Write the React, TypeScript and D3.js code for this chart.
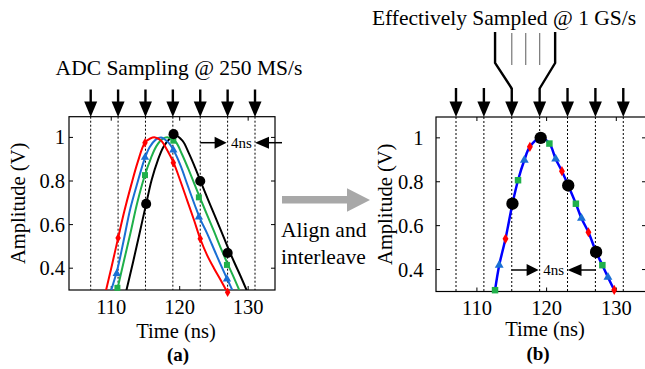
import * as d3 from "d3";

// sampling instants of the ADC (ns) and axis ticks
const sampleTimes = [107, 111, 115, 119, 123, 127, 131];
const xTicks = [110, 120, 130];
const yTicks = [0.4, 0.6, 0.8, 1];

// (a) four ADC channels, each shifted by 1 ns
const blackT = [112.0, 113.2, 114.1, 115.1, 115.9, 116.8, 117.6, 118.5, 119.3, 120.4, 121.3, 122.2, 123.1, 124.2, 125.0, 126.0, 127.1, 128.0, 128.8, 129.9];
const blackV = [0.27, 0.43, 0.555, 0.695, 0.805, 0.895, 0.955, 0.993, 1.01, 0.985, 0.93, 0.865, 0.795, 0.71, 0.65, 0.575, 0.49, 0.425, 0.37, 0.29];
const greenT = [110.8, 111.9, 112.8, 113.8, 114.9, 115.8, 116.6, 117.5, 118.3, 119.4, 120.3, 121.2, 122.1, 123.2, 124.0, 125.0, 126.1, 127.0, 127.8, 128.9];
const greenV = [0.29, 0.44, 0.56, 0.7, 0.825, 0.905, 0.96, 0.993, 1.0, 0.98, 0.925, 0.86, 0.79, 0.705, 0.645, 0.57, 0.485, 0.42, 0.365, 0.285];
const blueT = [109.9, 110.9, 111.8, 112.8, 113.9, 114.8, 115.6, 116.5, 117.3, 118.4, 119.3, 120.2, 121.1, 122.2, 123.0, 124.0, 125.1, 126.0, 126.8, 127.9];
const blueV = [0.29, 0.395, 0.525, 0.675, 0.8, 0.895, 0.955, 0.99, 1.0, 0.975, 0.93, 0.865, 0.785, 0.69, 0.625, 0.56, 0.48, 0.415, 0.36, 0.285];
const redT = [109.1, 110.0, 111.0, 111.9, 112.9, 113.9, 114.9, 115.7, 116.4, 117.3, 118.2, 119.1, 120.1, 121.1, 122.1, 123.0, 124.0, 125.0, 126.0, 127.2];
const redV = [0.28, 0.4, 0.538, 0.66, 0.78, 0.89, 0.975, 0.995, 1.0, 0.985, 0.94, 0.884, 0.8, 0.71, 0.62, 0.535, 0.46, 0.4, 0.345, 0.275];

// (a) samples taken by each channel
const aBlack: [number, number][] = [[115.1, 0.695], [119.1, 1.015], [123.0, 0.8], [127.0, 0.47]];
const aGreen: [number, number][] = [[110.9, 0.31], [114.93, 0.827], [119.07, 0.985], [122.8, 0.725], [126.9, 0.415]];
const aBlue: [number, number][] = [[110.8, 0.375], [114.93, 0.908], [119.07, 0.942], [122.8, 0.635], [126.9, 0.35]];
const aRed: [number, number][] = [[111.0, 0.538], [114.93, 0.975], [119.07, 0.884], [123.0, 0.535], [127.0, 0.29]];

// (b) samples after alignment
const bBlack: [number, number][] = [[115.1, 0.7], [119.15, 1.0], [123.1, 0.783], [127.1, 0.48]];
const bGreen: [number, number][] = [[112.6, 0.306], [115.9, 0.807], [120.4, 0.974], [124.2, 0.7], [128.0, 0.42]];
const bBlue: [number, number][] = [[113.2, 0.42], [116.8, 0.898], [121.3, 0.904], [125.0, 0.634], [128.8, 0.365]];
const bRed: [number, number][] = [[114.1, 0.54], [117.6, 0.959], [122.2, 0.848], [126.0, 0.57], [129.7, 0.307]];

const RED = "#ff0000";
const BLUE = "#1a6fd4";
const GREEN = "#1fb04a";
const FONT = "'Liberation Serif', 'Times New Roman', serif";

const zip = (t: number[], v: number[]) => t.map((d, i) => [d, v[i]] as [number, number]);

type Scale = d3.ScaleLinear<number, number>;

function Frame({ x, y, id, yLabelX, tickGap, tickY, timeY }: { x: Scale; y: Scale; id: string; yLabelX: number; tickGap: number; tickY: number; timeY: number }) {
  const [x0, x1] = x.range();
  const [y1, y0] = y.range();
  return (
    <g>
      <defs>
        <clipPath id={id}>
          <rect x={x0} y={y0} width={x1 - x0} height={y1 - y0} />
        </clipPath>
      </defs>
      {sampleTimes.map((t) => (
        <line key={t} x1={x(t)} x2={x(t)} y1={y0} y2={y1} stroke="#000" strokeWidth={1} strokeDasharray="2,2" />
      ))}
      <rect x={x0} y={y0} width={x1 - x0} height={y1 - y0} fill="none" stroke="#000" strokeWidth={1.2} />
      {xTicks.map((t) => (
        <g key={t}>
          <line x1={x(t)} x2={x(t)} y1={y1} y2={y1 - 4} stroke="#000" />
          <line x1={x(t)} x2={x(t)} y1={y0} y2={y0 + 4} stroke="#000" />
          <text x={x(t)} y={tickY} textAnchor="middle" fontSize={20.5}>{t}</text>
        </g>
      ))}
      {yTicks.map((v) => (
        <g key={v}>
          <line x1={x0} x2={x0 + 4} y1={y(v)} y2={y(v)} stroke="#000" />
          <line x1={x1} x2={x1 - 4} y1={y(v)} y2={y(v)} stroke="#000" />
          <text x={x0 - tickGap} y={y(v) + 7} textAnchor="end" fontSize={20.5}>{v}</text>
        </g>
      ))}
      <text transform={`translate(${yLabelX},${(y0 + y1) / 2}) rotate(-90)`} textAnchor="middle" fontSize={20.5}>Amplitude (V)</text>
      <text x={(x0 + x1) / 2 + 4} y={timeY} textAnchor="middle" fontSize={20.5}>Time (ns)</text>
    </g>
  );
}

function Markers({ x, y, pts, kind, color, size }: { x: Scale; y: Scale; pts: [number, number][]; kind: d3.SymbolType; color: string; size: number }) {
  const sym = d3.symbol().type(kind).size(size)();
  return (
    <g>
      {pts.map(([t, v], i) => (
        <path key={i} d={sym ?? ""} transform={`translate(${x(t)},${y(v)})`} fill={color} />
      ))}
    </g>
  );
}

function TopArrows({ x, top }: { x: Scale; top: number }) {
  return (
    <g>
      {sampleTimes.map((t) => (
        <g key={t}>
          <line x1={x(t)} x2={x(t)} y1={top} y2={103} stroke="#000" strokeWidth={2.4} />
          <path d={`M${x(t) - 6.5},101.5L${x(t) + 6.5},101.5L${x(t)},117Z`} fill="#000" />
        </g>
      ))}
    </g>
  );
}

function Span({ xa, xb, xc, xd, yy }: { xa: number; xb: number; xc: number; xd: number; yy: number }) {
  // arrow xa->xb, label, arrow xd->xc
  return (
    <g>
      <line x1={xa} x2={xb - 10} y1={yy} y2={yy} stroke="#000" strokeWidth={1.5} />
      <path d={`M${xb - 13},${yy - 6}L${xb - 1},${yy}L${xb - 13},${yy + 6}Z`} fill="#000" />
      <text x={(xb + xc) / 2} y={yy + 5} textAnchor="middle" fontSize={15}>4ns</text>
      <path d={`M${xc + 14},${yy - 6}L${xc},${yy}L${xc + 14},${yy + 6}Z`} fill="#000" />
      <line x1={xc + 10} x2={xd} y1={yy} y2={yy} stroke="#000" strokeWidth={1.5} />
    </g>
  );
}

export default function App() {
  const xA = d3.scaleLinear().domain([103.83, 133.92]).range([69, 275]);
  const yA = d3.scaleLinear().domain([0.3, 1.095]).range([290, 116.7]);
  const xB = d3.scaleLinear().domain([104.13, 134.26]).range([436, 646]);
  const yB = d3.scaleLinear().domain([0.3, 1.095]).range([291.5, 117]);

  const lineA = d3.line<[number, number]>().x((d) => xA(d[0])).y((d) => yA(d[1])).curve(d3.curveCatmullRom);
  const bAll = [...bBlack, ...bGreen, ...bBlue, ...bRed].sort((p, q) => p[0] - q[0]);
  const lineB = d3.line<[number, number]>().x((d) => xB(d[0])).y((d) => yB(d[1])).curve(d3.curveCatmullRom);

  const bx115 = xB(115);
  const bx119 = xB(119);

  return (
    <svg width={645} height={369} style={{ position: "absolute", left: 0, top: 0, background: "#fff", fontFamily: FONT }}>
      {/* panel (a) */}
      <text x={179} y={75} textAnchor="middle" fontSize={21.5}>ADC Sampling @ 250 MS/s</text>
      <TopArrows x={xA} top={89.5} />
      <Frame x={xA} y={yA} id="clipA" yLabelX={25} tickGap={4} tickY={313.5} timeY={338} />
      <g clipPath="url(#clipA)" fill="none" strokeWidth={2}>
        <path d={lineA(zip(blackT, blackV)) ?? ""} stroke="#000" />
        <path d={lineA(zip(greenT, greenV)) ?? ""} stroke={GREEN} />
        <path d={lineA(zip(blueT, blueV)) ?? ""} stroke={BLUE} />
        <path d={lineA(zip(redT, redV)) ?? ""} stroke={RED} />
      </g>
      <Markers x={xA} y={yA} pts={aRed} kind={d3.symbolDiamond} color={RED} size={26} />
      <Markers x={xA} y={yA} pts={aBlue} kind={d3.symbolTriangle} color={BLUE} size={30} />
      <Markers x={xA} y={yA} pts={aGreen} kind={d3.symbolSquare} color={GREEN} size={36} />
      <Markers x={xA} y={yA} pts={aBlack} kind={d3.symbolCircle} color="#000" size={80} />
      <Span xa={xA(123)} xb={xA(127)} xc={xA(131)} xd={282} yy={142.7} />
      <text x={178} y={361} textAnchor="middle" fontSize={19} fontWeight="bold">(a)</text>

      {/* transition */}
      <path d="M282,196L347,196L347,188.3L370,200L347,211.7L347,203.5L282,203.5Z" fill="#a8a8a8" />
      <text x={281} y={236.5} fontSize={21.5}>Align and</text>
      <text x={281} y={264} fontSize={21.5}>interleave</text>

      {/* panel (b) */}
      <text x={504} y={25} textAnchor="middle" fontSize={21.5}>Effectively Sampled @ 1 GS/s</text>
      {[115, 117, 119].map((t) => (
        <line key={t} x1={xB(t)} x2={xB(t)} y1={33} y2={65} stroke="#808080" strokeWidth={1.3} />
      ))}
      <polyline points={`${bx115 - 16.7},32 ${bx115 - 16.7},63 ${bx115},88.5`} fill="none" stroke="#000" strokeWidth={2.4} />
      <polyline points={`${bx119 + 15.5},32 ${bx119 + 15.5},63 ${bx119},88.5`} fill="none" stroke="#000" strokeWidth={2.4} />
      <TopArrows x={xB} top={88} />
      <Frame x={xB} y={yB} id="clipB" yLabelX={392} tickGap={12.5} tickY={315} timeY={335.5} />
      <g clipPath="url(#clipB)">
        <path d={lineB(bAll) ?? ""} fill="none" stroke="#0000ff" strokeWidth={2.5} />
      </g>
      <Markers x={xB} y={yB} pts={bRed} kind={d3.symbolDiamond} color={RED} size={30} />
      <Markers x={xB} y={yB} pts={bBlue} kind={d3.symbolTriangle} color={BLUE} size={34} />
      <Markers x={xB} y={yB} pts={bGreen} kind={d3.symbolSquare} color={GREEN} size={42} />
      <Markers x={xB} y={yB} pts={bBlack} kind={d3.symbolCircle} color="#000" size={120} />
      <Span xa={xB(115)} xb={xB(119)} xc={xB(123)} xd={xB(127)} yy={270} />
      <text x={538} y={360} textAnchor="middle" fontSize={19} fontWeight="bold">(b)</text>
    </svg>
  );
}
